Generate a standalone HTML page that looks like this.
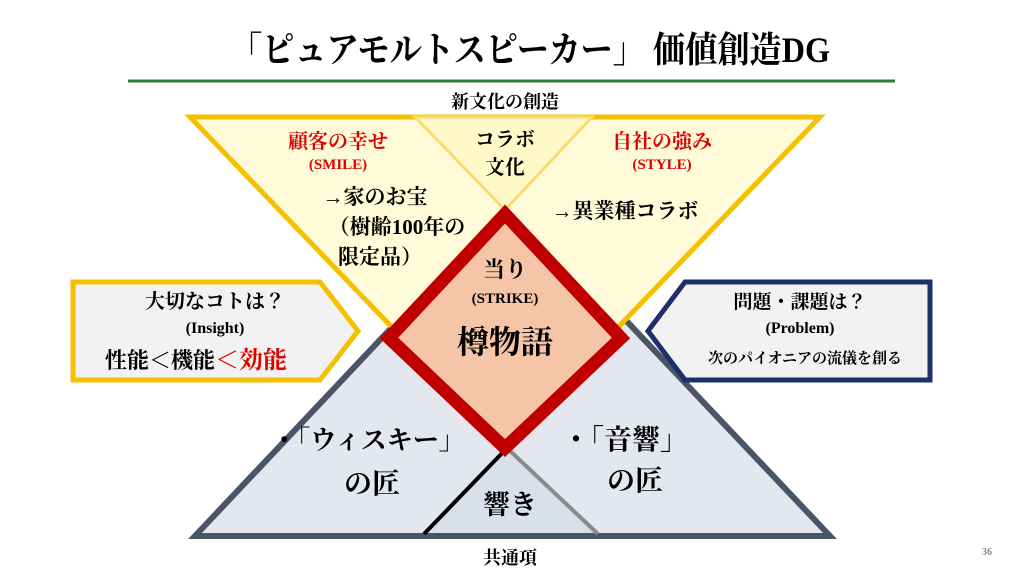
<!DOCTYPE html>
<html><head><meta charset="utf-8"><style>
body{margin:0;background:#fff;width:1024px;height:576px;overflow:hidden}
svg{display:block}
text{font-family:"Liberation Serif","Noto Serif CJK JP","Noto Serif CJK SC",serif;font-weight:bold;text-anchor:middle}
</style></head><body>
<svg width="1024" height="576" viewBox="0 0 1024 576">
<text x="530" y="62" font-size="36" textLength="600" lengthAdjust="spacingAndGlyphs" font-family="Noto Sans CJK JP,sans-serif">「ピュアモルトスピーカー」 価値創造DG</text>
<line x1="128" y1="81" x2="895" y2="81" stroke="#2e7d32" stroke-width="3"/>
<text x="505" y="108" font-size="18">新文化の創造</text>
<polygon points="195,536 512,200 830,536" fill="#e4e7ee" stroke="#4a5568" stroke-width="6" stroke-linejoin="miter"/>
<polygon points="505,450 425,533 598,533" fill="#d9e0ea"/>
<line x1="507" y1="448" x2="424" y2="534" stroke="#000" stroke-width="4"/>
<line x1="507" y1="448" x2="598" y2="534" stroke="#8a8a8a" stroke-width="4"/>
<polygon points="190,117 820,117 505,445" fill="#fffbd8" stroke="#f5c000" stroke-width="5"/>
<polygon points="415,117 592,117 505,210" fill="#fff8c8" stroke="#f9dc6a" stroke-width="3"/>
<polygon points="505,214 621,338 505,448 389,338" fill="#f6c4a6" stroke="#c00000" stroke-width="13" stroke-linejoin="miter"/>
<polygon points="73,282 320,282 358,331 320,380 73,380" fill="#f2f2f2" stroke="#f5c000" stroke-width="5"/>
<polygon points="648,331 685,282 930,282 930,380 685,380" fill="#f2f2f2" stroke="#1f2f6b" stroke-width="5"/>
<g fill="#e00000">
<text x="338" y="148" font-size="20">顧客の幸せ</text>
<text x="338" y="169" font-size="15">(SMILE)</text>
<text x="662" y="148" font-size="20">自社の強み</text>
<text x="662" y="169" font-size="15">(STYLE)</text>
</g>
<text x="505" y="146" font-size="20">コラボ</text>
<text x="505" y="174" font-size="20">文化</text>
<text x="375" y="204" font-size="21" font-family="Noto Serif CJK JP,serif">→家のお宝</text>
<text x="397" y="234" font-size="21">（樹齢100年の</text>
<text x="380" y="264" font-size="21">限定品）</text>
<text x="625" y="218" font-size="21" font-family="Noto Serif CJK JP,serif">→異業種コラボ</text>
<text x="505" y="277" font-size="22">当り</text>
<text x="505" y="303" font-size="15">(STRIKE)</text>
<text x="505" y="353" font-size="32">樽物語</text>
<text x="215" y="308" font-size="20">大切なコトは？</text>
<text x="215" y="333" font-size="16">(Insight)</text>
<text x="196" y="368" font-size="22">性能＜機能<tspan fill="#e00000" font-size="24">＜効能</tspan></text>
<text x="800" y="308" font-size="19">問題・課題は？</text>
<text x="800" y="333" font-size="16">(Problem)</text>
<text x="805" y="363" font-size="15">次のパイオニアの流儀を創る</text>
<text x="368" y="449" font-size="26">・「ウィスキー」</text>
<text x="372" y="493" font-size="28">の匠</text>
<text x="625" y="449" font-size="28">・「音響」</text>
<text x="635" y="490" font-size="28">の匠</text>
<text x="510" y="514" font-size="27">響き</text>
<text x="510" y="564" font-size="18">共通項</text>
<text x="987" y="555" font-size="10" font-weight="normal" fill="#888" font-family="Liberation Sans,sans-serif">36</text>
</svg>
</body></html>
